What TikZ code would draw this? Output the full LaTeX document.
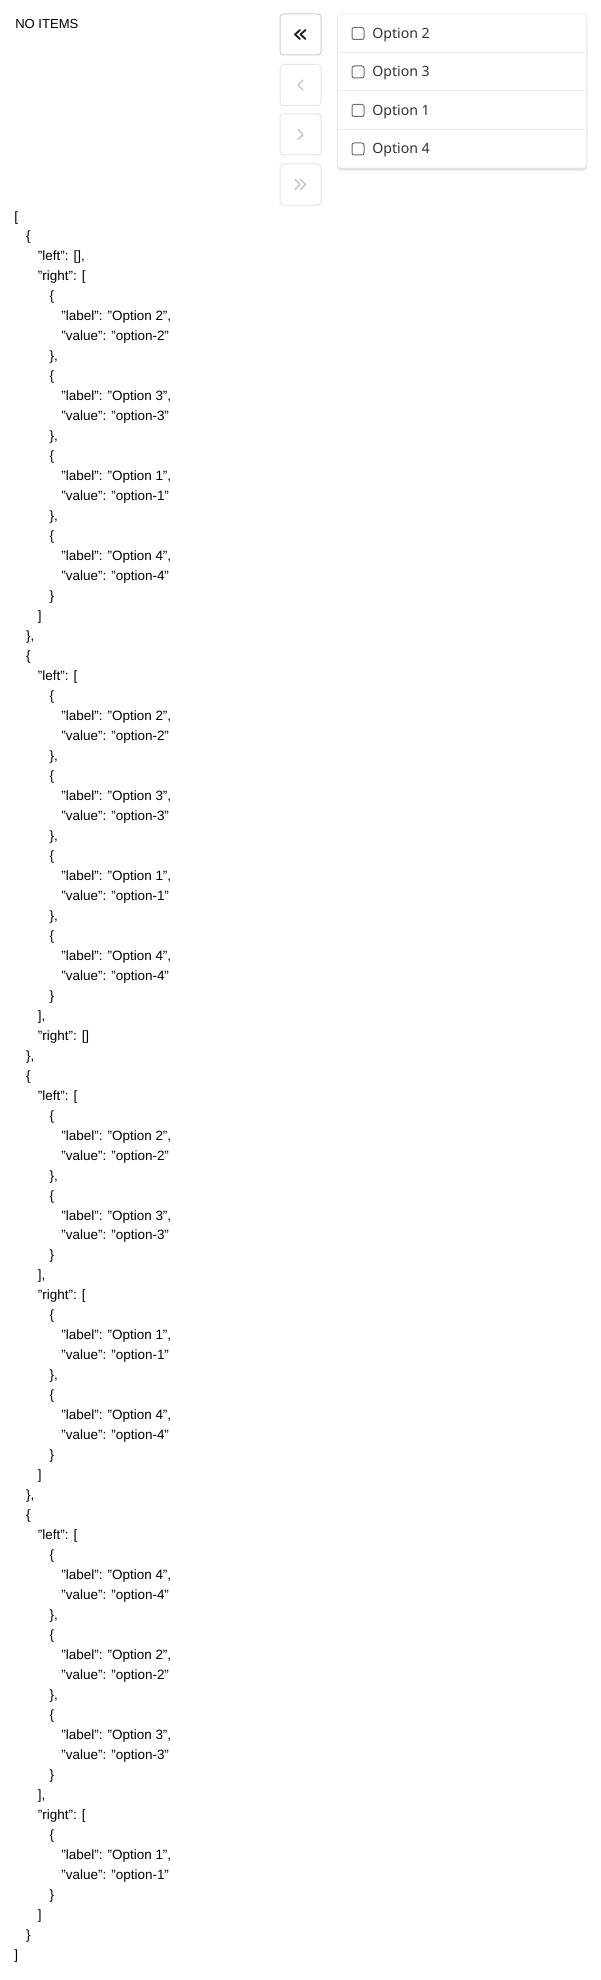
\documentclass[tikz,border=0pt]{standalone}
\usepackage{fontspec}
\setmainfont{Liberation Sans}
\newfontfamily\optfont{Noto Sans}
\usetikzlibrary{calc}
\definecolor{optgray}{HTML}{333333}
\definecolor{chkgray}{HTML}{6E6E6E}
\definecolor{btnA}{HTML}{CFCFCF}
\definecolor{btnB}{HTML}{E6E6E6}
\definecolor{chevA}{HTML}{1F1F1F}
\definecolor{chevB}{HTML}{C0C0C0}
\definecolor{divgray}{HTML}{EDEDED}
\newcounter{ln}
\newcommand{\jl}[2]{\node[json] (j\arabic{ln}) at ({14+11.8*#1},{221+19.98*\arabic{ln}}) {#2};\stepcounter{ln}}
\tikzset{
  json/.style={anchor=base west, inner sep=0pt, font=\fontsize{10.1pt}{12pt}\selectfont, text=black},
  btnbox/.style={draw=#1, fill=white, rounded corners=2.5pt, line width=0.75pt, minimum width=30.75pt, minimum height=30.75pt, inner sep=0pt},
  opt/.style={anchor=base west, inner sep=0pt, font=\optfont\fontsize{10.6pt}{12pt}\selectfont, text=optgray},
  chk/.style={draw=chkgray, fill=white, line width=0.75pt, rounded corners=1.6pt, minimum size=9pt, inner sep=0pt},
  chev/.style={draw=#1, line width=1pt, line cap=round, line join=round},
  divline/.style={draw=divgray, line width=0.75pt},
}
\begin{document}
\begin{tikzpicture}[x=0.75pt, y=-0.75pt]
\useasboundingbox (0,0) rectangle (600,1980);
\fill[white] (0,0) rectangle (600,1980);
% header text
\node[anchor=base west, inner sep=0pt, font=\fontsize{9.8pt}{12pt}\selectfont] (noitems) at (15,29) {NO ITEMS};
% buttons
\node[btnbox=btnA] (b1) at (300.5,34.5) {};
\node[btnbox=btnB] (b2) at (300.5,85) {};
\node[btnbox=btnB] (b3) at (300.5,134.5) {};
\node[btnbox=btnB] (b4) at (300.5,184.5) {};
\draw[chev=chevA, line width=1.4pt] ([shift={(-0.5,-4.5)}]b1.center) -- ++(-5,4.5) -- ++(5,4.5);
\draw[chev=chevA, line width=1.4pt] ([shift={(5,-4.5)}]b1.center) -- ++(-5,4.5) -- ++(5,4.5);
\draw[chev=chevB] ([shift={(2.5,-5)}]b2.center) -- ++(-5,5) -- ++(5,5);
\draw[chev=chevB] ([shift={(-2.5,-5)}]b3.center) -- ++(5,5) -- ++(-5,5);
\draw[chev=chevB] ([shift={(-5.5,-5)}]b4.center) -- ++(5,5) -- ++(-5,5);
\draw[chev=chevB] ([shift={(0,-5)}]b4.center) -- ++(5,5) -- ++(-5,5);
% panel with shadow
\fill[black, opacity=0.05, rounded corners=3.5pt] (336.5,15) rectangle (587.5,171.5);
\fill[black, opacity=0.08, rounded corners=3.5pt] (337,14.5) rectangle (587,169.8);
\node[draw=divgray, fill=white, rounded corners=3pt, line width=0.5pt, minimum width=186.75pt, minimum height=115.5pt, inner sep=0pt] (panel) at (462,91) {};
\draw[divline] (337.5,52.5) -- (586.5,52.5);
\draw[divline] (337.5,91) -- (586.5,91);
\draw[divline] (337.5,129.5) -- (586.5,129.5);
\node[chk] (c1) at (358,33.5) {};
\node[chk] (c2) at (358,72) {};
\node[chk] (c3) at (358,110.5) {};
\node[chk] (c4) at (358,149) {};
\node[opt] (o1) at (372,38.3) {Option 2};
\node[opt] (o2) at (372,76.8) {Option 3};
\node[opt] (o3) at (372,115.3) {Option 1};
\node[opt] (o4) at (372,153.8) {Option 4};
% JSON
\jl{0}{[}
\jl{1}{\{}
\jl{2}{"left": [],}
\jl{2}{"right": [}
\jl{3}{\{}
\jl{4}{"label": "Option 2",}
\jl{4}{"value": "option-2"}
\jl{3}{\},}
\jl{3}{\{}
\jl{4}{"label": "Option 3",}
\jl{4}{"value": "option-3"}
\jl{3}{\},}
\jl{3}{\{}
\jl{4}{"label": "Option 1",}
\jl{4}{"value": "option-1"}
\jl{3}{\},}
\jl{3}{\{}
\jl{4}{"label": "Option 4",}
\jl{4}{"value": "option-4"}
\jl{3}{\}}
\jl{2}{]}
\jl{1}{\},}
\jl{1}{\{}
\jl{2}{"left": [}
\jl{3}{\{}
\jl{4}{"label": "Option 2",}
\jl{4}{"value": "option-2"}
\jl{3}{\},}
\jl{3}{\{}
\jl{4}{"label": "Option 3",}
\jl{4}{"value": "option-3"}
\jl{3}{\},}
\jl{3}{\{}
\jl{4}{"label": "Option 1",}
\jl{4}{"value": "option-1"}
\jl{3}{\},}
\jl{3}{\{}
\jl{4}{"label": "Option 4",}
\jl{4}{"value": "option-4"}
\jl{3}{\}}
\jl{2}{],}
\jl{2}{"right": []}
\jl{1}{\},}
\jl{1}{\{}
\jl{2}{"left": [}
\jl{3}{\{}
\jl{4}{"label": "Option 2",}
\jl{4}{"value": "option-2"}
\jl{3}{\},}
\jl{3}{\{}
\jl{4}{"label": "Option 3",}
\jl{4}{"value": "option-3"}
\jl{3}{\}}
\jl{2}{],}
\jl{2}{"right": [}
\jl{3}{\{}
\jl{4}{"label": "Option 1",}
\jl{4}{"value": "option-1"}
\jl{3}{\},}
\jl{3}{\{}
\jl{4}{"label": "Option 4",}
\jl{4}{"value": "option-4"}
\jl{3}{\}}
\jl{2}{]}
\jl{1}{\},}
\jl{1}{\{}
\jl{2}{"left": [}
\jl{3}{\{}
\jl{4}{"label": "Option 4",}
\jl{4}{"value": "option-4"}
\jl{3}{\},}
\jl{3}{\{}
\jl{4}{"label": "Option 2",}
\jl{4}{"value": "option-2"}
\jl{3}{\},}
\jl{3}{\{}
\jl{4}{"label": "Option 3",}
\jl{4}{"value": "option-3"}
\jl{3}{\}}
\jl{2}{],}
\jl{2}{"right": [}
\jl{3}{\{}
\jl{4}{"label": "Option 1",}
\jl{4}{"value": "option-1"}
\jl{3}{\}}
\jl{2}{]}
\jl{1}{\}}
\jl{0}{]}
\end{tikzpicture}
\end{document}
